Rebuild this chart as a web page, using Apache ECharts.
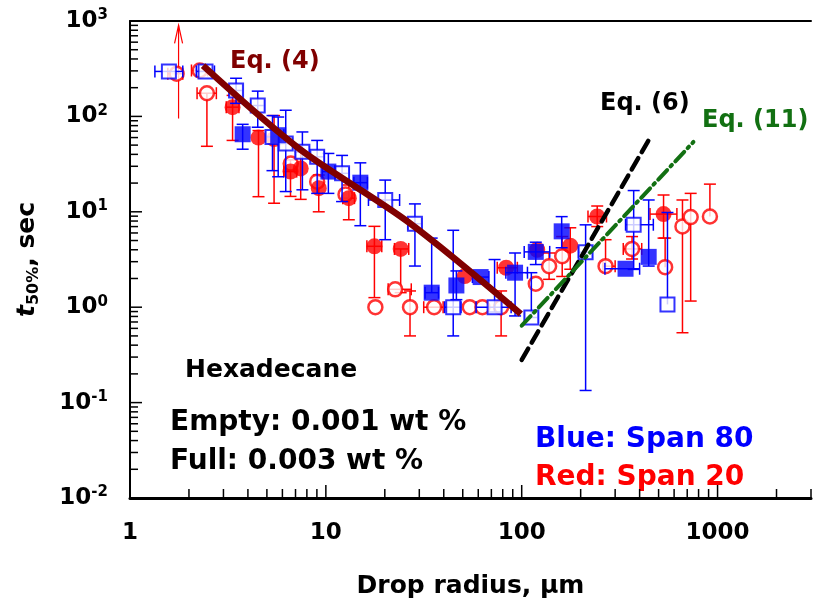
<!DOCTYPE html>
<html>
<head>
<meta charset="utf-8">
<script src="https://cdn.jsdelivr.net/npm/echarts@6/dist/echarts.min.js"></script>
<style>
  html, body { margin: 0; padding: 0; background: #fff; }
  #chart { width: 814px; height: 604px; }
</style>
</head>
<body>
<div id="chart"></div>
<script>
// each row: [radius, t50, xLow, xHigh, yLow, yHigh]
var blueOpen = [
  [1.58, 296, 1.34, 1.86, 296, 296],
  [2.43, 296, 2.18, 2.70, 296, 296],
  [3.48, 187, 3.22, 3.75, 137, 251],
  [4.49, 130, 4.14, 4.85, 77, 184],
  [5.34, 61, 4.95, 5.75, 27, 102],
  [6.24, 52, 5.8, 6.75, 16.3, 116],
  [7.59, 42.5, 7.0, 8.2, 17, 68.7],
  [9.03, 37.7, 8.4, 9.8, 15.6, 56],
  [12.1, 25.3, 11.2, 13.1, 12.8, 39],
  [20.1, 13.3, 16.5, 23.8, 5.1, 21.5],
  [28.5, 7.5, 26.3, 30.8, 2.7, 12.1],
  [44.7, 1.0, 40.4, 49, 0.5, 6.4],
  [72.7, 1.0, 58.5, 88.3, 0.89, 3.16],
  [112, 0.78, 104, 121, 0.78, 2.3],
  [212, 3.77, 195, 229, 0.134, 7.3],
  [373, 7.32, 339, 470, 2.49, 16.7],
  [555, 1.07, 555, 555, 1.07, 9.83]
];
var blueFull = [
  [3.76, 65, 3.76, 3.76, 45.3, 82.6],
  [5.71, 63.5, 5.3, 6.1, 23.3, 98.5],
  [10.3, 26.4, 9.6, 11.1, 15.6, 40.9],
  [15.0, 20.2, 13.9, 16.3, 7.15, 32.6],
  [34.7, 1.42, 32.1, 37.6, 1.42, 5.3],
  [46.4, 1.69, 46.4, 46.4, 1.2, 2.4],
  [61.7, 2.07, 56, 68, 2.07, 2.07],
  [92.5, 2.3, 83, 107, 0.81, 3.7],
  [118, 3.8, 103, 139, 2.8, 4.8],
  [160, 6.24, 160, 160, 4.2, 8.9],
  [339, 2.53, 266, 400, 2.53, 2.53],
  [445, 3.37, 445, 445, 2.7, 13.3]
];
var redOpen = [
  [1.73, 280, 1.56, 1.86, 280, 280],
  [2.27, 303, 2.06, 2.49, 303, 303],
  [2.47, 175, 2.2, 2.76, 48.6, 175],
  [6.62, 32, 6.62, 6.62, 32, 32],
  [9.03, 20.7, 9.03, 9.03, 20.7, 20.7],
  [12.6, 15.2, 12.6, 12.6, 15.2, 15.2],
  [17.9, 1.0, 17.9, 17.9, 1.0, 1.0],
  [22.6, 1.54, 20.8, 27.3, 1.54, 1.54],
  [26.9, 1.0, 26.9, 26.9, 0.5, 1.48],
  [35.7, 1.0, 31.6, 39.7, 1.0, 1.0],
  [54.3, 1.0, 54.3, 54.3, 1.0, 1.0],
  [63, 1.0, 63, 63, 1.0, 1.0],
  [78.5, 1.0, 78.5, 78.5, 0.5, 1.48],
  [118, 1.76, 118, 118, 1.76, 1.76],
  [138, 2.69, 138, 138, 1.96, 3.7],
  [161, 3.43, 161, 161, 2.1, 5.5],
  [268, 2.69, 260, 300, 2.69, 5.1],
  [366, 4.08, 330, 410, 3.2, 5.5],
  [540, 2.63, 540, 540, 2.63, 5.3],
  [662, 7.03, 662, 662, 0.54, 13.3],
  [729, 8.8, 729, 729, 1.16, 15.6],
  [914, 8.93, 914, 914, 8.93, 19.5]
];
var redFull = [
  [3.34, 125, 3.1, 3.6, 56, 166],
  [4.53, 60, 4.53, 4.53, 14.4, 71],
  [5.44, 58, 5.44, 5.44, 12.3, 102],
  [6.6, 26.4, 6.1, 7.1, 14.5, 35],
  [7.44, 28.5, 7.44, 7.44, 13.5, 42.5],
  [9.2, 17.7, 9.2, 9.2, 10, 24.3],
  [13.1, 13.9, 12.2, 14.0, 8.25, 19.1],
  [17.7, 4.35, 16.2, 19.3, 1.26, 7.04],
  [24.1, 4.08, 22.4, 26.5, 1.42, 4.08],
  [51.2, 2.12, 51.2, 51.2, 2.12, 2.12],
  [83.3, 2.59, 75, 95, 2.59, 2.59],
  [120, 4.0, 120, 120, 4.0, 4.0],
  [177, 4.42, 177, 177, 2.5, 6.8],
  [243, 8.93, 218, 271, 7, 11.5],
  [530, 9.46, 452, 620, 5.3, 15]
];
// open red point whose upper bar runs off the top: [radius, from, to]
var redArrow = [[1.77, 95, 900]];

// model curves
var eq4 = [[2.36, 340], [7.3, 46], [26.4, 7.8], [99, 0.85]];
var eq6 = [[100, 0.28], [457, 62]];
var eq11 = [[100, 0.64], [753, 54]];

var xMin = 1, xMax = 3000, yMin = 0.01, yMax = 1000;
var xLabels = ['1', '10', '100', '1000'];

var FONT = 'DejaVu Sans';
var BLUE = '#0000ff', RED = '#ff0000';

// tick positions 1..9 per decade
function decadeTicks(lo, hi) {
  var out = [];
  for (var e = Math.floor(Math.log10(lo)); Math.pow(10, e) <= hi; e++) {
    for (var m = 1; m <= 9; m++) {
      var v = m * Math.pow(10, e);
      if (v >= lo && v <= hi) out.push([v, m === 1 ? 1 : 0]);
    }
  }
  return out;
}
var xTicks = decadeTicks(xMin, xMax);
var yTicks = decadeTicks(yMin, yMax);

function errorBars(data, color, z) {
  return {
    type: 'custom',
    data: data,
    z: z,
    silent: true,
    encode: { x: 0, y: 1 },
    renderItem: function (params, api) {
      var x = api.value(0), y = api.value(1);
      var xl = api.value(2), xh = api.value(3), yl = api.value(4), yh = api.value(5);
      var st = { stroke: color, lineWidth: 1.5 };
      var kids = [];
      var cap = 6;
      function seg(a, b) {
        kids.push({ type: 'line', shape: { x1: a[0], y1: a[1], x2: b[0], y2: b[1] }, style: st });
      }
      if (yl !== yh) {
        var pl = api.coord([x, yl]), ph = api.coord([x, yh]);
        seg(pl, ph);
        if (yl !== y) seg([pl[0] - cap, pl[1]], [pl[0] + cap, pl[1]]);
        if (yh !== y) seg([ph[0] - cap, ph[1]], [ph[0] + cap, ph[1]]);
      }
      if (xl !== xh) {
        var ql = api.coord([xl, y]), qh = api.coord([xh, y]);
        seg(ql, qh);
        if (xl !== x) seg([ql[0], ql[1] - cap], [ql[0], ql[1] + cap]);
        if (xh !== x) seg([qh[0], qh[1] - cap], [qh[0], qh[1] + cap]);
      }
      return { type: 'group', children: kids };
    }
  };
}

function markers(data, symbol, filled, color, size, border, z) {
  return {
    type: 'scatter',
    data: data.map(function (d) { return [d[0], d[1]]; }),
    symbol: symbol,
    symbolSize: size,
    z: z,
    silent: true,
    itemStyle: filled
      ? { color: color }
      : { color: '#fff', borderColor: color, borderWidth: border }
  };
}

var chart = echarts.init(document.getElementById('chart'));

chart.setOption({
  backgroundColor: '#fff',
  animation: false,
  grid: { left: 130, top: 21, width: 685, height: 479 },
  xAxis: [{
    type: 'log', logBase: 10, min: xMin, max: xMax,
    axisLine: { show: true, lineStyle: { color: '#000', width: 3 } },
    axisTick: { show: false },
    splitLine: { show: false },
    axisLabel: {
      margin: 24,
      color: '#000', fontFamily: FONT, fontWeight: 'bold', fontSize: 23,
      formatter: function (v) {
        var e = Math.log10(v);
        return Math.abs(e - Math.round(e)) < 1e-6 ? xLabels[Math.round(e)] || '' : '';
      }
    },
    name: 'Drop radius, μm',
    nameLocation: 'middle',
    nameGap: 76,
    nameTextStyle: { color: '#000', fontFamily: FONT, fontWeight: 'bold', fontSize: 25 }
  }, {
    type: 'log', logBase: 10, min: xMin, max: xMax, position: 'top',
    axisLine: { show: true, lineStyle: { color: '#000', width: 2 } },
    axisTick: { show: false }, axisLabel: { show: false }, splitLine: { show: false }
  }],
  yAxis: {
    type: 'log', logBase: 10, min: yMin, max: yMax,
    axisLine: { show: true, lineStyle: { color: '#000', width: 2 } },
    axisTick: { show: false },
    splitLine: { show: false },
    axisLabel: {
      margin: 22,
      formatter: function (v) {
        return '{b|10}{s|' + Math.round(Math.log10(v)) + '}';
      },
      rich: {
        b: { color: '#000', fontFamily: FONT, fontWeight: 'bold', fontSize: 23, lineHeight: 26 },
        s: { color: '#000', fontFamily: FONT, fontWeight: 'bold', fontSize: 15, lineHeight: 15, verticalAlign: 'top' }
      }
    },
    name: '{t|t}{s|50%}{b|, sec}',
    nameLocation: 'middle',
    nameRotate: 90,
    nameGap: 88,
    nameTextStyle: {
      rich: {
        t: { color: '#000', fontFamily: FONT, fontWeight: 'bold', fontStyle: 'italic', fontSize: 25, lineHeight: 30 },
        s: { color: '#000', fontFamily: FONT, fontWeight: 'bold', fontSize: 16, lineHeight: 16, verticalAlign: 'bottom' },
        b: { color: '#000', fontFamily: FONT, fontWeight: 'bold', fontSize: 25, lineHeight: 30 }
      }
    }
  },
  graphic: [
    { type: 'text', x: 230, y: 62, style: { text: 'Eq. (4)', fill: '#800000', font: 'bold 24px "DejaVu Sans"', verticalAlign: 'middle' } },
    { type: 'text', x: 600, y: 104, style: { text: 'Eq. (6)', fill: '#000', font: 'bold 24px "DejaVu Sans"', verticalAlign: 'middle' } },
    { type: 'text', x: 702, y: 121, style: { text: 'Eq. (11)', fill: '#127012', font: 'bold 24px "DejaVu Sans"', verticalAlign: 'middle' } },
    { type: 'text', x: 185, y: 370, style: { text: 'Hexadecane', fill: '#000', font: 'bold 25px "DejaVu Sans"', verticalAlign: 'middle' } },
    { type: 'text', x: 170, y: 423, style: { text: 'Empty: 0.001 wt %', fill: '#000', font: 'bold 28px "DejaVu Sans"', verticalAlign: 'middle' } },
    { type: 'text', x: 170, y: 462, style: { text: 'Full: 0.003 wt %', fill: '#000', font: 'bold 28px "DejaVu Sans"', verticalAlign: 'middle' } },
    { type: 'text', x: 535, y: 440, style: { text: 'Blue: Span 80', fill: BLUE, font: 'bold 28px "DejaVu Sans"', verticalAlign: 'middle' } },
    { type: 'text', x: 535, y: 478, style: { text: 'Red: Span 20', fill: RED, font: 'bold 28px "DejaVu Sans"', verticalAlign: 'middle' } }
  ],
  series: [
    // axis ticks, pointing into the plot
    {
      type: 'custom', silent: true, z: 1,
      data: xTicks.map(function (t) { return [t[0], yMin, t[1]]; }),
      renderItem: function (params, api) {
        var p = api.coord([api.value(0), yMin]);
        var len = api.value(2) ? 13 : 9;
        return { type: 'line', shape: { x1: p[0], y1: p[1], x2: p[0], y2: p[1] - len }, style: { stroke: '#000', lineWidth: 1.5 } };
      }
    },
    {
      type: 'custom', silent: true, z: 1,
      data: yTicks.map(function (t) { return [xMin, t[0], t[1]]; }),
      renderItem: function (params, api) {
        var p = api.coord([xMin, api.value(1)]);
        var len = api.value(2) ? 12 : 8;
        return { type: 'line', shape: { x1: p[0], y1: p[1], x2: p[0] + len, y2: p[1] }, style: { stroke: '#000', lineWidth: 1.5 } };
      }
    },
    errorBars(redOpen, RED, 2),
    errorBars(redFull, RED, 2),
    {
      type: 'custom', silent: true, z: 2,
      data: redArrow,
      renderItem: function (params, api) {
        var a = api.coord([api.value(0), api.value(1)]);
        var b = api.coord([api.value(0), api.value(2)]);
        return {
          type: 'group', children: [
            { type: 'line', shape: { x1: a[0], y1: a[1], x2: b[0], y2: b[1] }, style: { stroke: RED, lineWidth: 1.2 } },
            { type: 'polyline', shape: { points: [[b[0] - 4, b[1] + 18], [b[0], b[1]], [b[0] + 4, b[1] + 18]] }, style: { stroke: RED, lineWidth: 1.2, fill: null } }
          ]
        };
      }
    },
    markers(redOpen, 'circle', false, RED, 14, 2.5, 3),
    markers(redFull, 'circle', true, RED, 16, 0, 3),
    errorBars(blueOpen, BLUE, 4),
    errorBars(blueFull, BLUE, 4),
    markers(blueOpen, 'rect', false, BLUE, 14, 2, 5),
    markers(blueFull, 'rect', true, BLUE, 16, 0, 5),
    {
      type: 'line', data: eq4, z: 8, smooth: 0.3, showSymbol: false, silent: true,
      lineStyle: { color: '#800000', width: 6.5 }
    },
    {
      type: 'line', data: eq6, z: 8, showSymbol: false, silent: true,
      lineStyle: { color: '#000', width: 4.5, type: [13, 7], cap: 'round' }
    },
    {
      type: 'line', data: eq11, z: 8, showSymbol: false, silent: true,
      lineStyle: { color: '#127012', width: 4, type: [13, 5, 2, 5], cap: 'round' }
    }
  ]
});
</script>
</body>
</html>
